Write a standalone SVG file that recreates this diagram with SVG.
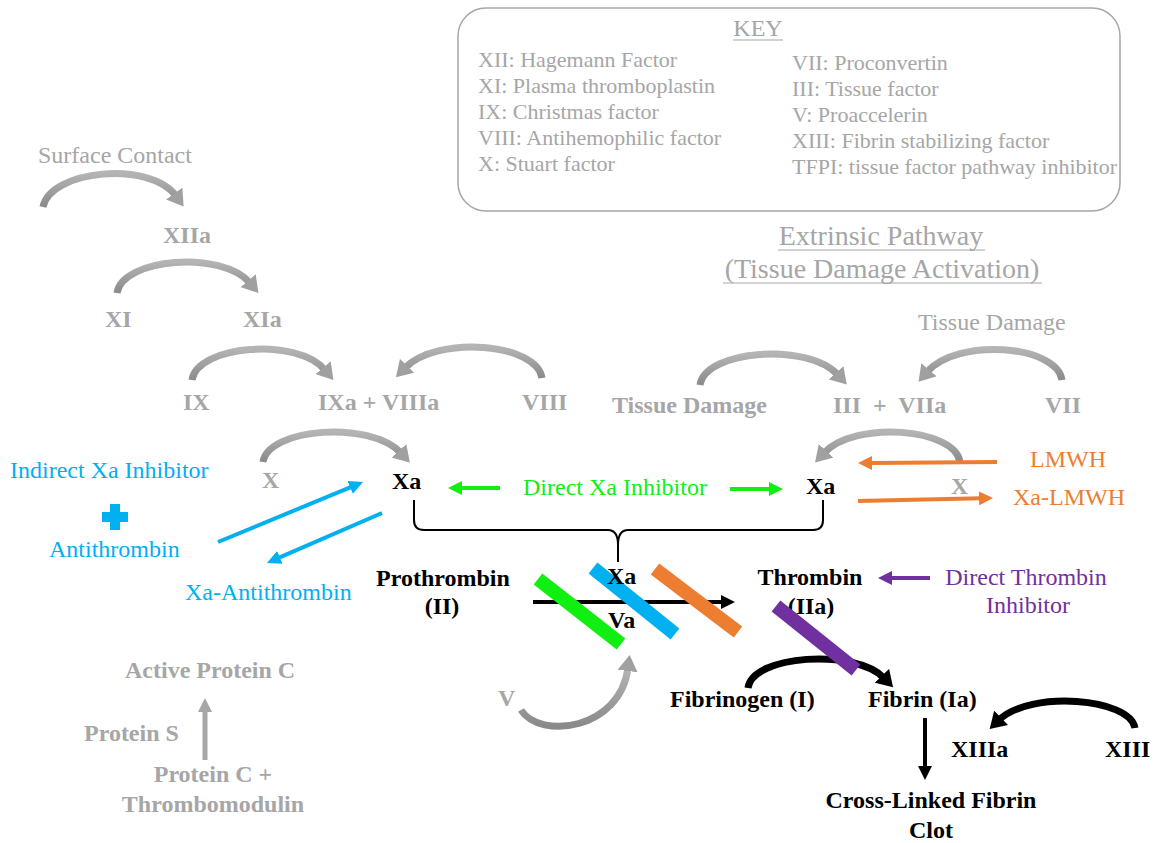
<svg xmlns="http://www.w3.org/2000/svg" width="1156" height="843" viewBox="0 0 1156 843">
<style>
text{font-family:"Liberation Serif","Times New Roman",serif;}
.g{fill:#a6a6a6;font-size:24px;}
.gb{fill:#a6a6a6;font-size:24px;font-weight:bold;}
.k{fill:#a6a6a6;font-size:22px;}
.b{fill:#000;font-size:24px;font-weight:bold;}
.bl{fill:#00b0f0;font-size:24px;}
.gr{fill:#11ee11;font-size:24px;}
.or{fill:#ed7d31;font-size:24px;}
.pu{fill:#7030a0;font-size:24px;}
.arc{fill:none;stroke:url(#gg);stroke-width:7;marker-end:url(#mg);}
.arck{fill:none;stroke:#000;stroke-width:7;marker-end:url(#mk);}
.bar{stroke-width:14;stroke-linecap:butt;}
</style>
<defs>
<linearGradient id="gg" x1="0" y1="0" x2="0" y2="1">
<stop offset="0" stop-color="#b4b4b4"/>
<stop offset="1" stop-color="#8a8a8a"/>
</linearGradient>
<marker id="mg" markerUnits="userSpaceOnUse" viewBox="0 0 16 20" markerWidth="16" markerHeight="20" refX="3" refY="10" orient="auto"><path d="M0,0 L16,10 L0,20 z" fill="#a0a0a0"/></marker>
<marker id="mk" markerUnits="userSpaceOnUse" viewBox="0 0 16 20" markerWidth="16" markerHeight="20" refX="3" refY="10" orient="auto"><path d="M0,0 L16,10 L0,20 z" fill="#000"/></marker>
<marker id="mb" markerUnits="userSpaceOnUse" viewBox="0 0 14 14" markerWidth="14" markerHeight="14" refX="2" refY="7" orient="auto"><path d="M0,0 L14,7 L0,14 z" fill="#00b0f0"/></marker>
<marker id="mgr" markerUnits="userSpaceOnUse" viewBox="0 0 14 14" markerWidth="14" markerHeight="14" refX="2" refY="7" orient="auto"><path d="M0,0 L14,7 L0,14 z" fill="#11ee11"/></marker>
<marker id="mo" markerUnits="userSpaceOnUse" viewBox="0 0 14 14" markerWidth="14" markerHeight="14" refX="2" refY="7" orient="auto"><path d="M0,0 L14,7 L0,14 z" fill="#ed7d31"/></marker>
<marker id="mp" markerUnits="userSpaceOnUse" viewBox="0 0 14 14" markerWidth="14" markerHeight="14" refX="2" refY="7" orient="auto"><path d="M0,0 L14,7 L0,14 z" fill="#7030a0"/></marker>
<marker id="mks" markerUnits="userSpaceOnUse" viewBox="0 0 14 14" markerWidth="14" markerHeight="14" refX="2" refY="7" orient="auto"><path d="M0,0 L14,7 L0,14 z" fill="#000"/></marker>
<marker id="mgs" markerUnits="userSpaceOnUse" viewBox="0 0 14 14" markerWidth="14" markerHeight="14" refX="2" refY="7" orient="auto"><path d="M0,0 L14,7 L0,14 z" fill="#a6a6a6"/></marker>
</defs>
<rect width="1156" height="843" fill="#fff"/>

<g id="key">
<rect x="458" y="8" width="662" height="203" rx="28" fill="none" stroke="#a6a6a6" stroke-width="1.5"/>
<text class="g" x="758" y="36" text-anchor="middle">KEY</text>
<line x1="733" y1="40" x2="783" y2="40" stroke="#a6a6a6" stroke-width="1.2"/>
<text class="k" x="478" y="67">XII: Hagemann Factor</text>
<text class="k" x="478" y="93">XI: Plasma thromboplastin</text>
<text class="k" x="478" y="119">IX: Christmas factor</text>
<text class="k" x="478" y="145">VIII: Antihemophilic factor</text>
<text class="k" x="478" y="171">X: Stuart factor</text>
<text class="k" x="792" y="70">VII: Proconvertin</text>
<text class="k" x="792" y="96">III: Tissue factor</text>
<text class="k" x="792" y="122">V: Proaccelerin</text>
<text class="k" x="792" y="148">XIII: Fibrin stabilizing factor</text>
<text class="k" x="792" y="174">TFPI: tissue factor pathway inhibitor</text>
</g>

<g id="extrinsic-title">
<text class="g" x="881" y="245" text-anchor="middle" style="font-size:28px">Extrinsic Pathway</text>
<line x1="778" y1="250" x2="985" y2="250" stroke="#a6a6a6" stroke-width="1.2"/>
<text class="g" x="882" y="278" text-anchor="middle" style="font-size:28px">(Tissue Damage Activation)</text>
<line x1="723" y1="283" x2="1042" y2="283" stroke="#a6a6a6" stroke-width="1.2"/>
</g>

<g id="connectors">
<path class="arc" d="M43,207 C50,170 150,160 176,196"/>
<path class="arc" d="M117,293 C122,258 222,250 250,283"/>
<path class="arc" d="M192,380 C197,345 297,337 325,370"/>
<path class="arc" d="M542,378 C537,343 437,335 405,368"/>
<path class="arc" d="M263,462 C268,428 370,420 401,453"/>
<path class="arc" d="M700,385 C705,350 808,342 838,375"/>
<path class="arc" d="M1062,380 C1057,345 957,337 927,372"/>
<path class="arc" d="M960,462 C955,428 855,420 824,453"/>
<path class="arc" d="M521,710 C540,740 620,730 628,668"/>
<path class="arck" d="M748,688 C752,655 855,648 884,678"/>
<path class="arck" d="M1135,728 C1130,698 1030,690 999,720"/>
<line x1="218" y1="542" x2="352" y2="486.6" stroke="#00b0f0" stroke-width="4" marker-end="url(#mb)"/>
<line x1="382" y1="513" x2="278" y2="558.2" stroke="#00b0f0" stroke-width="4" marker-end="url(#mb)"/>
<line x1="500" y1="488" x2="460" y2="488" stroke="#11ee11" stroke-width="4" marker-end="url(#mgr)"/>
<line x1="730" y1="489" x2="771" y2="489" stroke="#11ee11" stroke-width="4" marker-end="url(#mgr)"/>
<line x1="997" y1="462" x2="870" y2="463" stroke="#ed7d31" stroke-width="4" marker-end="url(#mo)"/>
<line x1="858" y1="501" x2="981" y2="498.3" stroke="#ed7d31" stroke-width="4" marker-end="url(#mo)"/>
<line x1="930" y1="578" x2="890" y2="578" stroke="#7030a0" stroke-width="4" marker-end="url(#mp)"/>
<line x1="533" y1="602" x2="723" y2="602" stroke="#000" stroke-width="4" marker-end="url(#mks)"/>
<line x1="925" y1="718" x2="925" y2="768" stroke="#000" stroke-width="4" marker-end="url(#mks)"/>
<line x1="205" y1="760" x2="205" y2="710" stroke="#a6a6a6" stroke-width="5" marker-end="url(#mgs)"/>
<path d="M414,500 L414,520 Q414,530 424,530 L608,530 Q618,530 618,545 L618,562 M618,545 Q618,530 628,530 L813,530 Q823,530 823,520 L823,500" fill="none" stroke="#000" stroke-width="2"/>
</g>

<g id="surface-contact"><text class="g" x="38" y="163">Surface Contact</text></g>
<g id="XIIa"><text class="gb" x="163" y="243">XIIa</text></g>
<g id="XI"><text class="gb" x="105" y="327">XI</text></g>
<g id="XIa"><text class="gb" x="243" y="327">XIa</text></g>
<g id="IX"><text class="gb" x="183" y="410">IX</text></g>
<g id="IXa-VIIIa"><text class="gb" x="318" y="410">IXa + VIIIa</text></g>
<g id="VIII"><text class="gb" x="522" y="410">VIII</text></g>
<g id="tissue-damage-top"><text class="g" x="918" y="330">Tissue Damage</text></g>
<g id="tissue-damage"><text class="gb" x="612" y="413">Tissue Damage</text></g>
<g id="III-VIIa"><text class="gb" x="833" y="413" xml:space="preserve">III  +  VIIa</text></g>
<g id="VII"><text class="gb" x="1045" y="413">VII</text></g>
<g id="X-left"><text class="gb" x="262" y="488">X</text></g>
<g id="Xa-left"><text class="b" x="392" y="489">Xa</text></g>
<g id="direct-xa"><text class="gr" x="523" y="495">Direct Xa Inhibitor</text></g>
<g id="Xa-right"><text class="b" x="806" y="494">Xa</text></g>
<g id="X-right"><text class="gb" x="951" y="494">X</text></g>
<g id="LMWH"><text class="or" x="1030" y="467">LMWH</text></g>
<g id="Xa-LMWH"><text class="or" x="1013" y="505">Xa-LMWH</text></g>
<g id="indirect-xa"><text class="bl" x="10" y="478">Indirect Xa Inhibitor</text></g>
<g id="plus"><path d="M110,504 h10 v8 h8 v10 h-8 v8 h-10 v-8 h-8 v-10 h8 z" fill="#00b0f0"/></g>
<g id="antithrombin"><text class="bl" x="49" y="557">Antithrombin</text></g>
<g id="xa-antithrombin"><text class="bl" x="185" y="600">Xa-Antithrombin</text></g>
<g id="prothrombin"><text class="b" x="443" y="586" text-anchor="middle">Prothrombin</text><text class="b" x="442" y="614" text-anchor="middle">(II)</text></g>
<g id="thrombin"><text class="b" x="810" y="585" text-anchor="middle">Thrombin</text><text class="b" x="811" y="614" text-anchor="middle">(IIa)</text></g>
<g id="bars">
<line class="bar" x1="538" y1="579" x2="621" y2="644" stroke="#11ee11"/>
<line class="bar" x1="593" y1="568" x2="675" y2="634" stroke="#00b0f0"/>
<line class="bar" x1="655" y1="569" x2="738" y2="632" stroke="#ed7d31"/>
<line class="bar" x1="776" y1="606" x2="856" y2="670" stroke="#7030a0"/>
</g>
<g id="XaVa"><text class="b" x="607" y="584">Xa</text><text class="b" x="608" y="628">Va</text></g>
<g id="direct-thrombin"><text class="pu" x="1026" y="585" text-anchor="middle">Direct Thrombin</text><text class="pu" x="1028" y="613" text-anchor="middle">Inhibitor</text></g>
<g id="V"><text class="gb" x="498" y="706">V</text></g>
<g id="fibrinogen"><text class="b" x="670" y="707">Fibrinogen (I)</text></g>
<g id="fibrin"><text class="b" x="868" y="707">Fibrin (Ia)</text></g>
<g id="XIIIa"><text class="b" x="951" y="757">XIIIa</text></g>
<g id="XIII"><text class="b" x="1105" y="757">XIII</text></g>
<g id="clot"><text class="b" x="931" y="808" text-anchor="middle">Cross-Linked Fibrin</text><text class="b" x="931" y="838" text-anchor="middle">Clot</text></g>
<g id="active-protein-c"><text class="gb" x="125" y="678">Active Protein C</text></g>
<g id="protein-s"><text class="gb" x="84" y="741">Protein S</text></g>
<g id="protein-c"><text class="gb" x="213" y="782" text-anchor="middle">Protein C +</text><text class="gb" x="213" y="812" text-anchor="middle">Thrombomodulin</text></g>
</svg>
